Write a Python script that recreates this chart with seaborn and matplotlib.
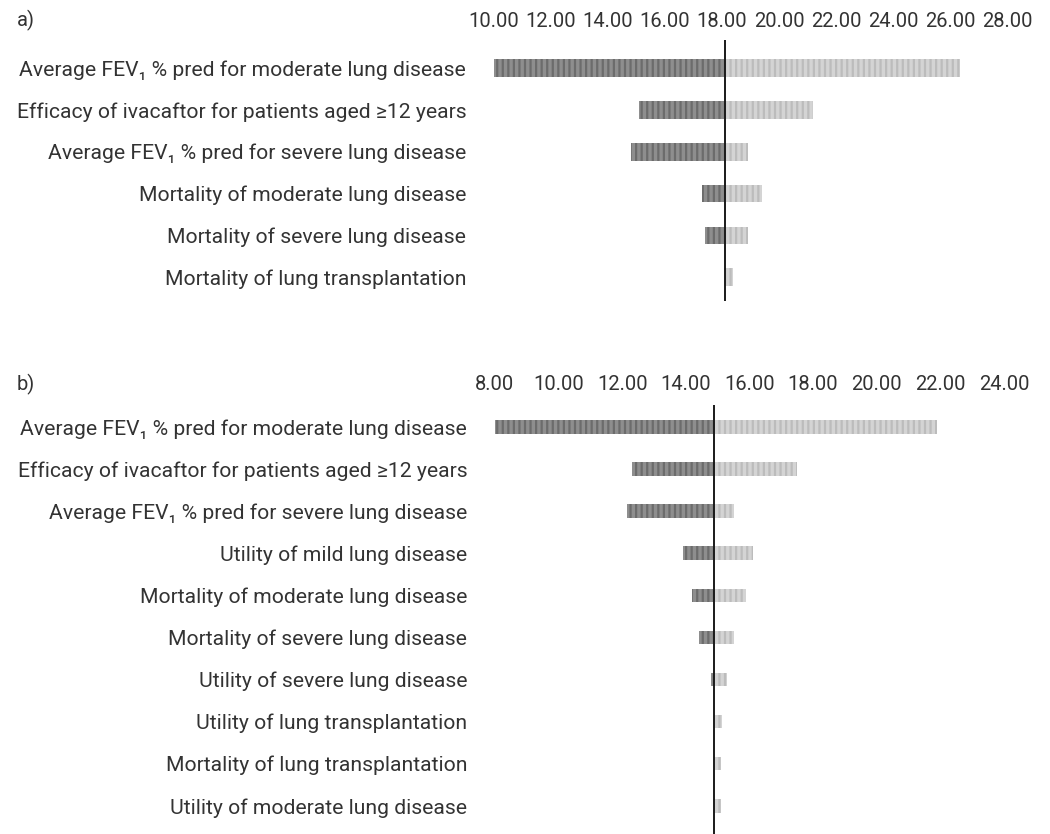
import matplotlib
matplotlib.use("Agg")
import matplotlib.pyplot as plt
import seaborn as sns

# panel a
labels_a = ["Average FEV\u2081 % pred for moderate lung disease",
            "Efficacy of ivacaftor for patients aged \u226512 years",
            "Average FEV\u2081 % pred for severe lung disease",
            "Mortality of moderate lung disease",
            "Mortality of severe lung disease",
            "Mortality of lung transplantation"]
low_a = [10.0, 15.1, 14.8, 17.3, 17.4, 18.1]
high_a = [26.35, 21.2, 18.9, 19.4, 18.9, 18.4]
base_a = 18.1
ticks_a = [10, 12, 14, 16, 18, 20, 22, 24, 26, 28]

# panel b
labels_b = ["Average FEV\u2081 % pred for moderate lung disease",
            "Efficacy of ivacaftor for patients aged \u226512 years",
            "Average FEV\u2081 % pred for severe lung disease",
            "Utility of mild lung disease",
            "Mortality of moderate lung disease",
            "Mortality of severe lung disease",
            "Utility of severe lung disease",
            "Utility of lung transplantation",
            "Mortality of lung transplantation",
            "Utility of moderate lung disease"]
low_b = [8.0, 12.3, 12.15, 13.9, 14.2, 14.4, 14.8, 14.9, 14.9, 14.9]
high_b = [21.9, 17.5, 15.5, 16.1, 15.9, 15.5, 15.3, 15.15, 15.1, 15.1]
base_b = 14.9
ticks_b = [8, 10, 12, 14, 16, 18, 20, 22, 24]

sns.set_style("white")
plt.rcParams["font.family"] = ["Roboto", "DejaVu Sans"]
txt = "#333333"


def tornado(ax, labels, low, high, base, ticks, ylim, bar_h, pad):
    n = len(labels)
    sns.barplot(x=[base - v for v in low], y=labels, orient="h", width=bar_h,
                color="#8e8e8e", ax=ax)
    sns.barplot(x=[v - base for v in high], y=labels, orient="h", width=bar_h,
                color="#d4d4d4", ax=ax)
    for i, p in enumerate(ax.patches):
        if i < n:
            p.set_x(low[i])
            p.set_edgecolor("#6c6c6c")
        else:
            p.set_x(base)
            p.set_edgecolor("#bcbcbc")
        p.set_hatch("|||")
        p.set_linewidth(0)
    ax.axvline(base, color="#1a1a1a", lw=1.4)
    ax.set_xlim(ticks[0], ticks[-1])
    ax.set_ylim(*ylim)
    ax.xaxis.tick_top()
    ax.set_xticks(ticks)
    ax.set_xticklabels([f"{t:.2f}" for t in ticks])
    ax.tick_params(axis="x", length=0, pad=pad, labelsize=14.5, colors=txt)
    ax.tick_params(axis="y", length=0, pad=20, labelsize=15.2, colors=txt)
    ax.set_xlabel("")
    ax.set_ylabel("")
    sns.despine(ax=ax, left=True, bottom=True, top=True, right=True)


plt.rcParams["hatch.linewidth"] = 1.6
fig = plt.figure(figsize=(10.5, 8.34), dpi=100)
ax_a = fig.add_axes([0.4705, 0.639, 0.4886, 0.313])
ax_b = fig.add_axes([0.4714, 0.0, 0.4848, 0.5144])

tornado(ax_a, labels_a, low_a, high_a, base_a, ticks_a, (5.57, -0.67), 0.42, 6.5)
tornado(ax_b, labels_b, low_b, high_b, base_b, ticks_b, (9.67, -0.52), 0.32, 8)

fig.text(17 / 1050, 1 - 20 / 834, "a)", fontsize=14.5, color=txt, va="center")
fig.text(17 / 1050, 1 - 384 / 834, "b)", fontsize=14.5, color=txt, va="center")

fig.savefig("out.png", dpi=100)
